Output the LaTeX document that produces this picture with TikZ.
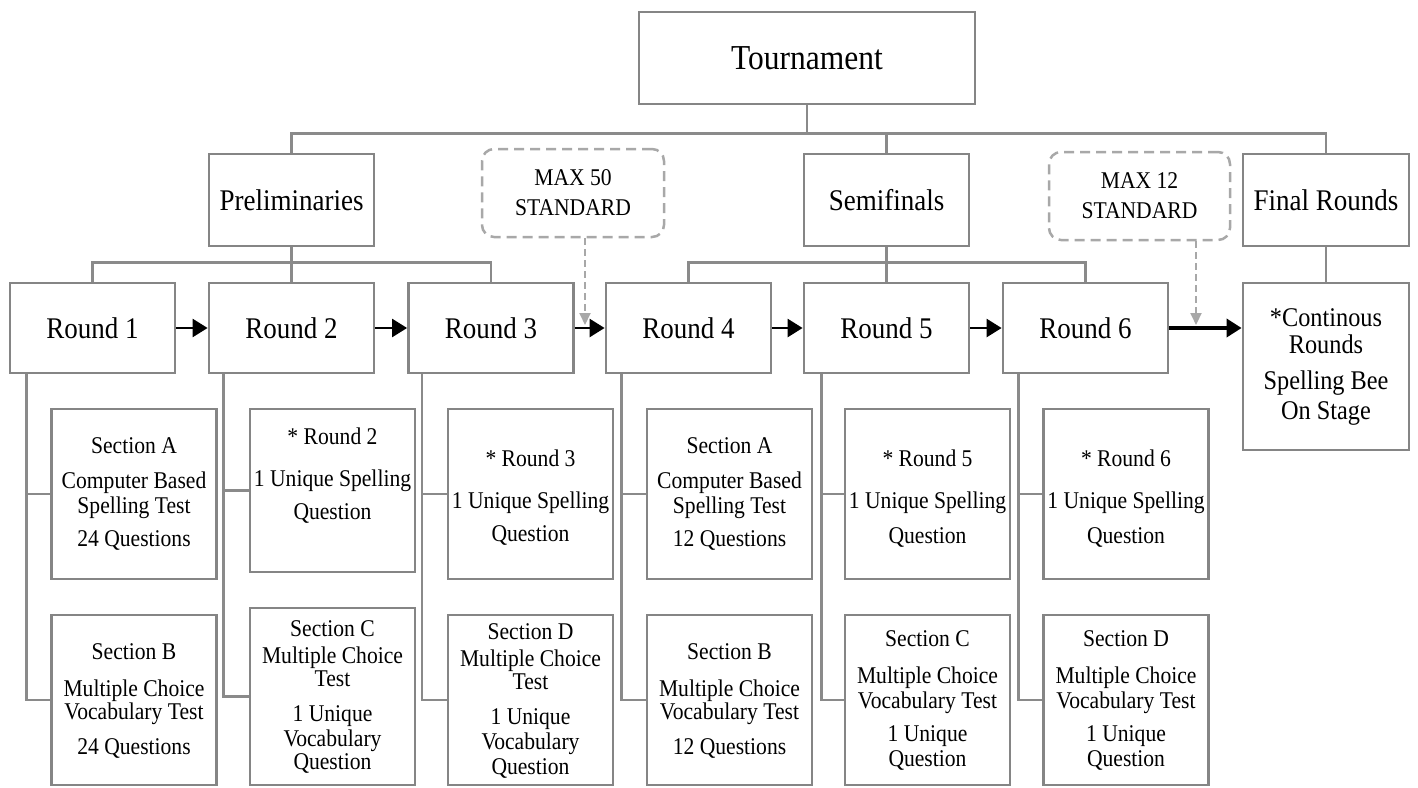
\documentclass[tikz,border=0pt]{standalone}
\usepackage{fontspec}
\setmainfont{Liberation Serif}[FakeStretch=0.9]
\usetikzlibrary{arrows.meta,calc}
\definecolor{boxgray}{HTML}{858585}
\definecolor{linegray}{HTML}{8A8A8A}
\definecolor{dashgray}{HTML}{A8A8A8}
\newcommand\ftour{\fontsize{35}{40}\selectfont}
\newcommand\fround{\fontsize{30}{34}\selectfont}
\newcommand\fsec{\fontsize{24}{25}\selectfont}
\newcommand\fmax{\fontsize{24}{30}\selectfont}
\newcommand\fcont{\fontsize{27}{27}\selectfont}
\begin{document}
\begin{tikzpicture}[x=1pt,y=-1pt,
  box/.style={draw=boxgray, line width=2.8pt, rectangle, inner sep=0pt, fill=white},
  conn/.style={draw=linegray, line width=2.5pt},
  arr/.style={draw=black, line width=2.5pt, -{Triangle[length=15pt,width=18pt]}},
  dbox/.style={draw=dashgray, line width=2.5pt, dash pattern=on 10pt off 6pt, rounded corners=12pt, rectangle, align=center, font=\fmax, inner sep=0pt},
  darr/.style={draw=dashgray, line width=2pt, dash pattern=on 7pt off 4pt, -{Triangle[length=12pt,width=11pt,fill=dashgray]}},
  sec/.style={align=center, font=\fsec, inner sep=0pt},
  rnd/.style={box, minimum width=165pt, minimum height=90pt, font=\fround},
  sbox/.style={box, minimum width=165pt}
]
\useasboundingbox (0,0) rectangle (1418,787);

% top level
\node[box, minimum width=336pt, minimum height=92pt, font=\ftour] (tour) at (807,58) {Tournament};
\node[box, minimum width=165pt, minimum height=92pt, font=\fround] (prelim) at (291.5,200) {Preliminaries};
\node[box, minimum width=165pt, minimum height=92pt, font=\fround] (semi) at (886.5,200) {Semifinals};
\node[box, minimum width=166pt, minimum height=92pt, font=\fround] (final) at (1326,200) {Final Rounds};
\node[dbox, minimum width=182pt, minimum height=88pt] (max50) at (573,193) {MAX 50\\STANDARD};
\node[dbox, minimum width=181pt, minimum height=88pt] (max12) at (1139.5,196) {MAX 12\\STANDARD};

% rounds
\node[rnd] (r1) at (92.5,328) {Round 1};
\node[rnd] (r2) at (291.5,328) {Round 2};
\node[rnd] (r3) at (491,328) {Round 3};
\node[rnd] (r4) at (688.5,328) {Round 4};
\node[rnd] (r5) at (886.5,328) {Round 5};
\node[rnd] (r6) at (1085.5,328) {Round 6};
\node[box, minimum width=166pt, minimum height=167pt, font=\fcont, align=center] (cont) at (1326,366.5)
  {*Continous\\Rounds\\[9pt]Spelling Bee\\[3pt]On Stage};

% tree connectors
\coordinate (bus) at (0,135);
\draw[conn] (tour.south) -- (tour.south |- bus);
\draw[conn] (prelim.north) -- ++(0,-19) -| (final.north);
\draw[conn] (semi.north) -- (semi.north |- bus);
\draw[conn] (prelim.south) -- (r2.north);
\draw[conn] (r1.north) -- ++(0,-19) -| (r3.north);
\draw[conn] (semi.south) -- (r5.north);
\draw[conn] (r4.north) -- ++(0,-19) -| (r6.north);
\draw[conn] (final.south) -- (cont.north);

% round arrows
\draw[arr] (r1.east) -- (r2.west);
\draw[arr] (r2.east) -- (r3.west);
\draw[arr] (r3.east) -- (r4.west);
\draw[arr] (r4.east) -- (r5.west);
\draw[arr] (r5.east) -- (r6.west);
\draw[arr, line width=3.5pt] (r6.east) -- (r6.east -| cont.west);

% dashed arrows
\coordinate (d1) at (585,325);
\coordinate (d2) at (1196,325);
\draw[darr] (max50.south -| d1) -- (d1);
\draw[darr] (max12.south -| d2) -- (d2);

% section boxes
\node[sbox, minimum height=170pt] (s1a) at (134,494) {};
\node[sbox, minimum height=170pt] (s1b) at (134,700) {};
\node[sbox, minimum height=163pt] (s2a) at (332.5,490.5) {};
\node[sbox, minimum height=177pt] (s2b) at (332.5,696.5) {};
\node[sbox, minimum height=170pt] (s3a) at (530.5,494) {};
\node[sbox, minimum height=170pt] (s3b) at (530.5,700) {};
\node[sbox, minimum height=170pt] (s4a) at (729.5,494) {};
\node[sbox, minimum height=170pt] (s4b) at (729.5,700) {};
\node[sbox, minimum height=170pt] (s5a) at (927.5,494) {};
\node[sbox, minimum height=170pt] (s5b) at (927.5,700) {};
\node[sbox, minimum height=170pt] (s6a) at (1126,494) {};
\node[sbox, minimum height=170pt] (s6b) at (1126,700) {};

% section texts
\node[sec] (t1a) at (134,493.5) {Section A\\[10pt]Computer Based\\Spelling Test\\[8pt]24 Questions};
\node[sec] (t1b) at (134,700.5) {Section B\\[12pt]Multiple Choice\\[-2pt]Vocabulary Test\\[10pt]24 Questions};
\node[sec] (t2a) at (332.5,476) {* Round 2\\[17pt]1 Unique Spelling\\[8pt]Question};
\node[sec] (t2b) at (332.5,696.5) {Section C\\[2pt]Multiple Choice\\[-2pt]Test\\[10pt]1 Unique\\Vocabulary\\[-2pt]Question};
\node[sec] (t3a) at (530.5,497.5) {* Round 3\\[17pt]1 Unique Spelling\\[8pt]Question};
\node[sec] (t3b) at (530.5,700.5) {Section D\\[2pt]Multiple Choice\\[-2pt]Test\\[10pt]1 Unique\\Vocabulary\\Question};
\node[sec] (t4a) at (729.5,493.5) {Section A\\[10pt]Computer Based\\Spelling Test\\[8pt]12 Questions};
\node[sec] (t4b) at (729.5,700.5) {Section B\\[12pt]Multiple Choice\\[-2pt]Vocabulary Test\\[10pt]12 Questions};
\node[sec] (t5a) at (927.5,498.5) {* Round 5\\[17pt]1 Unique Spelling\\[10pt]Question};
\node[sec] (t5b) at (927.5,700) {Section C\\[12pt]Multiple Choice\\Vocabulary Test\\[8pt]1 Unique\\Question};
\node[sec] (t6a) at (1126,498.5) {* Round 6\\[17pt]1 Unique Spelling\\[10pt]Question};
\node[sec] (t6b) at (1126,700) {Section D\\[12pt]Multiple Choice\\Vocabulary Test\\[8pt]1 Unique\\Question};

% round-to-section connectors
\foreach \r/\a/\b/\o in {r1/s1a/s1b/18, r2/s2a/s2b/16, r3/s3a/s3b/15, r4/s4a/s4b/17, r5/s5a/s5b/19, r6/s6a/s6b/17}{
  \coordinate (tk\r) at ($(\r.south west)+(\o,0)$);
  \draw[conn] (tk\r) |- (\b.west);
  \draw[conn] (\a.west) -- (\a.west -| tk\r);
}
\end{tikzpicture}
\end{document}
